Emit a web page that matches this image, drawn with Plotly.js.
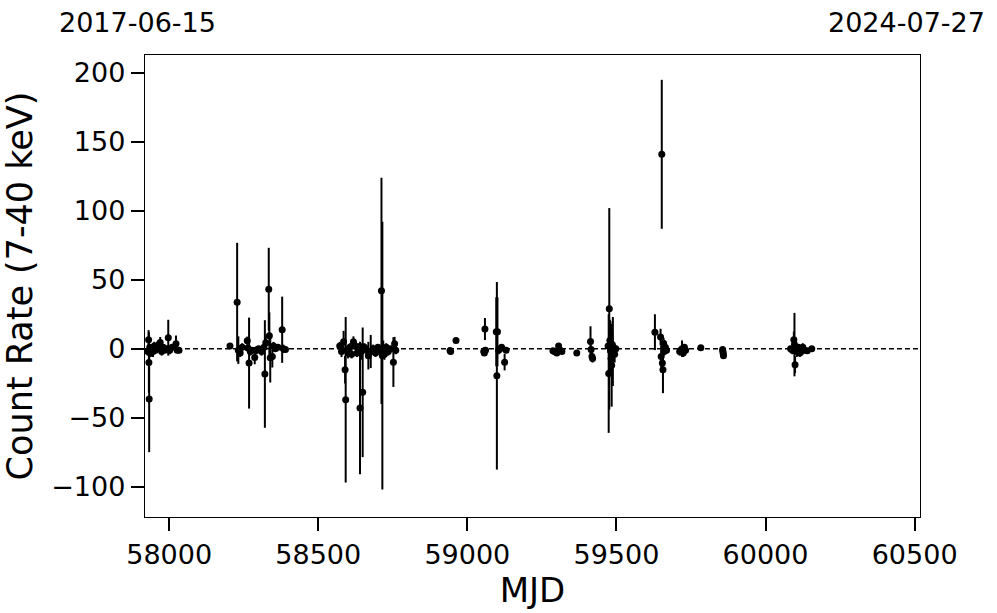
<!DOCTYPE html>
<html>
<head>
<meta charset="utf-8">
<script src="https://cdn.plot.ly/plotly-3.0.1.min.js"></script>
<style>html,body{margin:0;padding:0;background:#fff}</style>
</head>
<body>
<div id="chart" style="width:997px;height:613px"></div>
<script>
// MJD of each observation
const mjd = [
  57928,57931,57932,57933,57935,57938,57942,57946,57950,57955,57960,57965,57970,57975,57980,57985,57993,57997,58002,58010,58023,58027,58033,
  58204,58228,58232,58238,58245,58262,58264,58268,58272,58280,58287,58293,58300,58310,58318,58321,58324,58334,58336,58339,58346,58350,58356,58365,58379,58383,58390,
  58572,58578,58585,58590,58592,58596,58600,58606,58612,58618,58625,58630,58636,58640,58644,58649,58655,58662,58668,58676,58684,58692,58700,58708,58712,58715,58718,58722,58728,58735,58742,58752,58756,58760,
  58942,58944,58962,
  59055,59057,59059,59061,59097,59099,59101,59105,59110,59115,59125,59130,
  59287,59292,59300,59306,59312,59317,59367,
  59413,59415,59418,59420,
  59472,59474,59476,59478,59480,59482,59484,59486,59488,59490,59494,59498,
  59629,59648,59650,59652,59654,59656,59658,59660,59664,59668,
  59712,59716,59720,59724,59728,59732,
  59783,
  59856,59857,59858,59859,
  60084,60090,60095,60097,60099,60101,60105,60110,60115,60120,60125,60130,60140,60155
];
// Count rate (7-40 keV)
const rate = [
  -2,6.5,-10,-36.5,1,-3,0,-2,2,-1,0.5,3,4.5,-2,1,-1,0,8,-1,1,3.6,-1,-1,
  2,33.8,-1,-3,1,5.8,0.5,-10.4,-2,-1,-6.3,-1,0,-2,1,-18.3,4.3,43.2,9.4,-6.5,-5.6,2,0,1,13.8,0,-0.5,
  2,-2,5,-15.2,-37,-1,-3,1,-4,5,2,-3,0,-43,-2,-31.6,1,-1,-5,-2,0,-3,1,-2,42,-5,0,-4,1,-2,0,-9.7,3.6,-1,
  -1.2,-2,6,
  -2,-3,14.3,-1,12.3,-19.6,12.3,-1,0,1,-9.7,-1,
  -1.5,-2,-3,2,-1,-2,-3,
  5.3,-0.5,-5.6,-7,
  2,-18,29,6,0,-7,-12,3,-2,1,-4,0,
  12,8.5,-5.6,141,-10.4,-15.2,4,-2,1,-1,
  -2,-1,0,-3,1,-1,
  0.7,
  -0.5,-2,-3.5,-5,
  0,-1,6.5,3,-11.6,0,-2,1,-3,-2,1,-1,-1.5,0
];
// 1-sigma uncertainty
const err = [
  3,7,22,38.5,2,3,2,4,3,2,2,3,4,3,2,2,2,13,3,2,6,2,2,
  2,43,10,3,3,3,2,33,3,2,5,3,2,3,3,39,5,30,17,18,8,3,2,2,24,3,2,
  3,4,8,10,60,3,4,3,3,4,3,3,4,48,6,47,3,3,10,12,3,3,2,4,82,97,6,4,3,3,2,18,5,3,
  2,2,2,
  3,2,8,2,25,68,25,3,2,2,6,2,
  2,2,2,2,2,2,2,
  11,3,4,3,
  5,43,73,15,20,12,30,8,25,4,6,2,
  13,6,8,54,6,17,4,3,3,2,
  3,2,6,3,2,2,
  1.5,
  1,1,1,1,
  2,3,6,23,6,3,4,2,3,2,3,2,2,2
];
const dateLabels = ["2017-06-15", "2024-07-27"];
const xTicks = [58000,58500,59000,59500,60000,60500];
const yTicks = [-100,-50,0,50,100,150,200];

const font = "DejaVu Sans, sans-serif";
const trace = {
  x: mjd, y: rate, type: "scatter", mode: "markers",
  marker: {color: "black", size: 7},
  error_y: {type: "data", array: err, visible: true, color: "black", thickness: 2, width: 0},
  hoverinfo: "skip", showlegend: false
};
const layout = {
  width: 997, height: 613,
  margin: {l: 145, r: 77, t: 55, b: 96},
  paper_bgcolor: "white", plot_bgcolor: "white",
  font: {family: font, color: "black", size: 27},
  xaxis: {
    range: [57919, 60518], tickvals: xTicks, ticktext: xTicks.map(String),
    ticks: "outside", ticklen: 13, tickwidth: 2, tickcolor: "black",
    showline: true, linecolor: "black", linewidth: 1.2, mirror: true,
    showgrid: false, zeroline: false,
    tickfont: {size: 27, family: font},
    title: {text: "MJD", font: {size: 34, family: font}, standoff: 2}
  },
  yaxis: {
    range: [-122, 213], tickvals: yTicks, ticktext: yTicks.map(v => v < 0 ? "\u2212" + Math.abs(v) : String(v)),
    ticks: "outside", ticklen: 13, tickwidth: 2, tickcolor: "black",
    showline: true, linecolor: "black", linewidth: 1.2, mirror: true,
    showgrid: false, zeroline: false,
    tickfont: {size: 27, family: font},
    title: {text: "Count Rate (7-40 keV)", font: {size: 35, family: font}, standoff: 8}
  },
  shapes: [{
    type: "line", xref: "paper", x0: 0, x1: 1, yref: "y", y0: 0, y1: 0,
    line: {color: "black", width: 1.3, dash: "5px,3px"}, layer: "below"
  }],
  annotations: [
    {text: dateLabels[0], xref: "paper", yref: "paper", x: -0.1135, y: 1.071, xanchor: "left", yanchor: "middle", showarrow: false, font: {size: 27, family: font}},
    {text: dateLabels[1], xref: "paper", yref: "paper", x: 1.0865, y: 1.071, xanchor: "right", yanchor: "middle", showarrow: false, font: {size: 27, family: font}}
  ]
};
Plotly.newPlot("chart", [trace], layout, {displayModeBar: false, staticPlot: true});
</script>
</body>
</html>
